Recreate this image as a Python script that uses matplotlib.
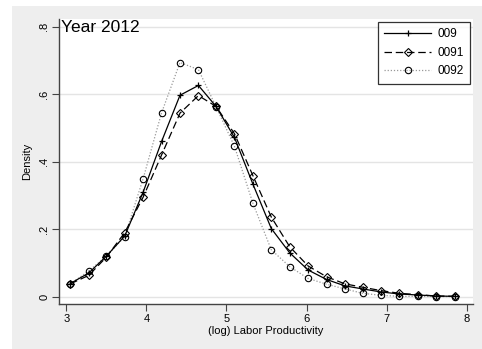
import matplotlib
matplotlib.use("Agg")
import matplotlib.pyplot as plt
from matplotlib.patches import Rectangle
from matplotlib.lines import Line2D

plt.rcParams['font.family'] = ['Liberation Sans', 'DejaVu Sans']

# Evaluation grid of the kernel density estimates (log labor productivity)
x_grid = [3.05, 3.28, 3.50, 3.73, 3.96, 4.19, 4.42, 4.65, 4.87, 5.10, 5.33,
          5.56, 5.79, 6.02, 6.25, 6.48, 6.70, 6.93, 7.16, 7.39, 7.62, 7.85]

dens_009 = [0.039, 0.070, 0.120, 0.180, 0.310, 0.460, 0.597, 0.626, 0.564, 0.472, 0.334,
            0.202, 0.130, 0.079, 0.051, 0.032, 0.023, 0.014, 0.008, 0.005, 0.002, 0.001]
dens_0091 = [0.038, 0.063, 0.117, 0.190, 0.295, 0.420, 0.544, 0.596, 0.564, 0.483, 0.359,
             0.236, 0.148, 0.091, 0.059, 0.038, 0.028, 0.018, 0.010, 0.006, 0.002, 0.001]
dens_0092 = [0.038, 0.076, 0.120, 0.178, 0.350, 0.545, 0.694, 0.673, 0.563, 0.446, 0.277,
             0.139, 0.089, 0.054, 0.037, 0.023, 0.010, 0.004, 0.001, 0.001, 0.0005, 0.0003]

series_labels = ['009', '0091', '0092']
x_ticks = [3, 4, 5, 6, 7, 8]
y_ticks = [0, 0.2, 0.4, 0.6, 0.8]
y_tick_labels = ['0', '.2', '.4', '.6', '.8']

W, H = 482, 349
fig = plt.figure(figsize=(W / 100, H / 100), dpi=100)
fig.patch.set_facecolor('white')

# light gray graph region behind the plot
bg = Rectangle((12 / W, 0), (W - 12) / W, (H - 6) / H,
               transform=fig.transFigure, facecolor='#eeeeee', edgecolor='none')
bg.set_zorder(-10)
fig.add_artist(bg)

left, right, top, bottom = 59, 473, 19, 304
ax = fig.add_axes([left / W, (H - bottom) / H, (right - left) / W, (bottom - top) / H])
ax.set_zorder(1)
ax.set_facecolor('white')

styles = [
    dict(color='black', linestyle='-', linewidth=0.9, marker='+',
         markersize=5, markeredgewidth=0.9),
    dict(color='black', linestyle=(0, (6, 3)), linewidth=0.9, marker='D',
         markersize=4.2, markerfacecolor='none', markeredgewidth=0.8),
    dict(color='#999999', linestyle=(0, (1, 1.5)), linewidth=0.9, marker='o',
         markersize=4.6, markerfacecolor='none', markeredgecolor='black',
         markeredgewidth=0.8),
]

for ys, st, lab, z in zip([dens_009, dens_0091, dens_0092], styles, series_labels, [4, 3, 2]):
    ax.plot(x_grid, ys, label=lab, zorder=z, **st)

ax.set_xlim(2.909, 8.079)
ax.set_ylim(-0.0217, 0.823)
ax.set_xticks(x_ticks)
ax.set_yticks(y_ticks)
ax.set_yticklabels(y_tick_labels, rotation=90, va='center')
ax.tick_params(axis='both', labelsize=8, length=5, width=0.8, color='#444444', pad=2)
ax.grid(axis='y', color='#e4e4e4', linewidth=1)
ax.set_axisbelow(True)

for s in ['top', 'right']:
    ax.spines[s].set_visible(False)
for s in ['left', 'bottom']:
    ax.spines[s].set_color('#444444')
    ax.spines[s].set_linewidth(1.0)

ax.set_xlabel('(log) Labor Productivity', fontsize=8, labelpad=1.5)
ax.set_ylabel('Density', fontsize=8, labelpad=5)

ax.text(0.005, 0.995, 'Year 2012', transform=ax.transAxes, fontsize=12.5,
        va='top', ha='left')

handles = [Line2D([], [], **st) for st in styles]
leg = ax.legend(handles, series_labels, loc='upper right', bbox_to_anchor=(0.9928, 0.9895),
                fontsize=8.5, frameon=True, fancybox=False, handlelength=4.0,
                handletextpad=0.5, borderpad=0.55, labelspacing=0.55, borderaxespad=0)
leg.get_frame().set_edgecolor('black')
leg.get_frame().set_linewidth(0.9)

fig.savefig('out.png', dpi=100, facecolor=fig.get_facecolor())
